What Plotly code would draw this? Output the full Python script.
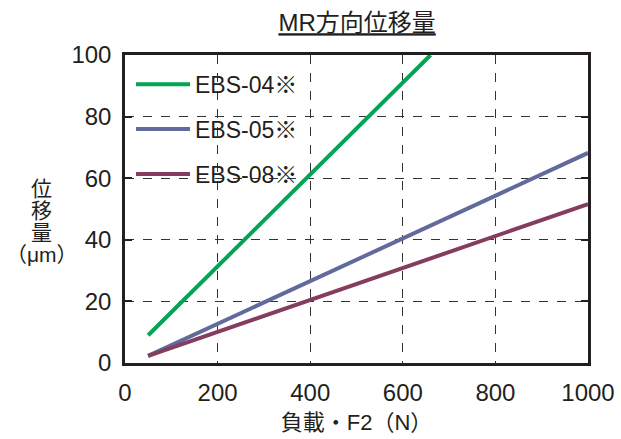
import plotly.graph_objects as go

# load (N) vs displacement (um)
names = ['EBS-04※', 'EBS-05※', 'EBS-08※']
colors = ['#00a651', '#626a9c', '#843d5e']
load_04 = [50, 660]
disp_04 = [9.0, 100]
load_05 = [50, 1000]
disp_05 = [2.3, 68.2]
load_08 = [50, 1000]
disp_08 = [2.3, 51.6]

x_ticks = [0, 200, 400, 600, 800, 1000]
y_ticks = [0, 20, 40, 60, 80, 100]
y_title_lines = ['位', '移', '量', '（μm）']

FONT = 'Liberation Sans, Noto Sans CJK JP, sans-serif'
INK = '#231f20'

fig = go.Figure()
series = [(load_04, disp_04), (load_05, disp_05), (load_08, disp_08)]
for i, (xs, ys) in enumerate(series):
    fig.add_trace(go.Scatter(x=xs, y=ys, mode='lines', name=names[i],
                             legendgroup=names[i],
                             line=dict(color=colors[i], width=4)))

fig.update_layout(
    width=621, height=439,
    margin=dict(l=125, r=33, t=55, b=76),
    paper_bgcolor='white', plot_bgcolor='white',
    font=dict(family=FONT, color=INK, size=20),
    title=dict(text='<u>MR方向位移量</u>', x=0.575, xanchor='center',
               y=0.948, yanchor='middle', automargin=False,
               font=dict(size=24)),
    showlegend=True,
    legend=dict(x=0.013, y=0.975, xanchor='left', yanchor='top',
                bgcolor='rgba(0,0,0,0)', font=dict(size=23),
                tracegroupgap=12, itemwidth=54),
)

fig.update_xaxes(range=[0, 1000], tickvals=x_ticks, ticks='',
                 showline=True, linewidth=2.5, linecolor=INK, mirror=True,
                 showgrid=True, gridcolor='#333333', griddash='dash',
                 gridwidth=1, zeroline=False, automargin=False,
                 tickfont=dict(size=24), ticklabelstandoff=6,
                 title=dict(text='負載・F2（N）', font=dict(size=22),
                            standoff=11))
fig.update_yaxes(range=[0, 100], tickvals=y_ticks, ticks='inside',
                 ticklen=7, tickwidth=1.5, tickcolor=INK,
                 showline=True, linewidth=2.5, linecolor=INK, mirror='ticks',
                 showgrid=True, gridcolor='#333333', griddash='dash',
                 gridwidth=1, zeroline=False, automargin=False,
                 tickfont=dict(size=24), ticklabelstandoff=6)

# stacked y title, one annotation per line to keep the tight line pitch
for k, line in enumerate(y_title_lines):
    fig.add_annotation(text=line, xref='paper', yref='paper',
                       x=-0.18, y=0.565, yshift=-21.7 * k,
                       xanchor='center', yanchor='middle',
                       showarrow=False, font=dict(size=21))

fig.write_html('out.html', config={'displayModeBar': False},
               post_script="document.body.style.margin='0';")
